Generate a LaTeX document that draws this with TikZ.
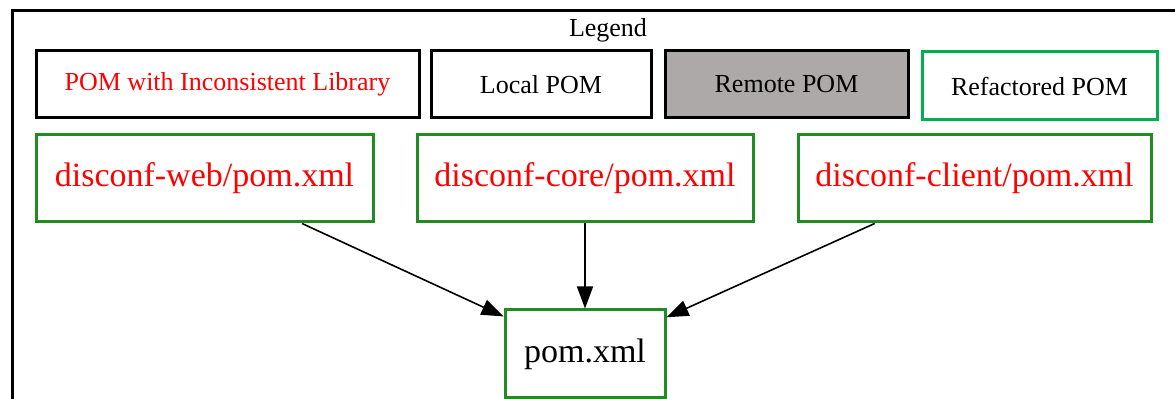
\documentclass[tikz,border=0pt]{standalone}
\usepackage{fontspec}
\setmainfont{Liberation Serif}
\usetikzlibrary{arrows.meta}
\definecolor{podgreen}{RGB}{34,139,34}
\definecolor{legreen}{RGB}{0,176,80}
\definecolor{remgray}{RGB}{173,169,169}
\definecolor{incred}{RGB}{255,0,0}
\tikzset{
  legbox/.style={draw,line width=1.5pt,minimum height=33.5pt,inner sep=0pt,font=\fontsize{13}{15}\selectfont},
  pombox/.style={draw=podgreen,line width=1.5pt,minimum height=43.5pt,inner sep=0pt,font=\fontsize{17}{20}\selectfont},
  dep/.style={-{Triangle[length=11pt,width=8pt]},line width=0.8pt}
}
\begin{document}
\begin{tikzpicture}[x=0.5pt,y=-0.5pt]
\clip (0,0) rectangle (1175,399);
\useasboundingbox (0,0) rectangle (1175,399);
% frame
\draw[line width=1.5pt] (12,11) rectangle (1200,430);
\node[font=\fontsize{13}{15}\selectfont] (legend) at (608,30) {Legend};

% legend
\node[legbox,minimum width=191.5pt,text=incred] (inc) at (227.5,84.5) {POM with Inconsistent Library};
\node[legbox,minimum width=110pt] (loc) at (541,84.5) {Local POM};
\node[legbox,minimum width=121.5pt,fill=remgray] (rem) at (786.5,84.5) {Remote POM};
\node[legbox,minimum width=117.5pt,draw=legreen,minimum height=34pt] (ref) at (1039.5,86) {Refactored POM};

% modules
\node[pombox,minimum width=168.5pt,text=incred] (web) at (204.5,178.5) {disconf-web/pom.xml};
\node[pombox,minimum width=168pt,text=incred] (core) at (585,178.5) {disconf-core/pom.xml};
\node[pombox,minimum width=176.5pt,text=incred] (client) at (974.5,178.5) {disconf-client/pom.xml};
\node[pombox,minimum width=80pt,minimum height=44pt] (pom) at (585,354) {pom.xml};

\draw[dep] (web) -- (pom);
\draw[dep] (core) -- (pom);
\draw[dep] (client) -- (pom);
\end{tikzpicture}
\end{document}
